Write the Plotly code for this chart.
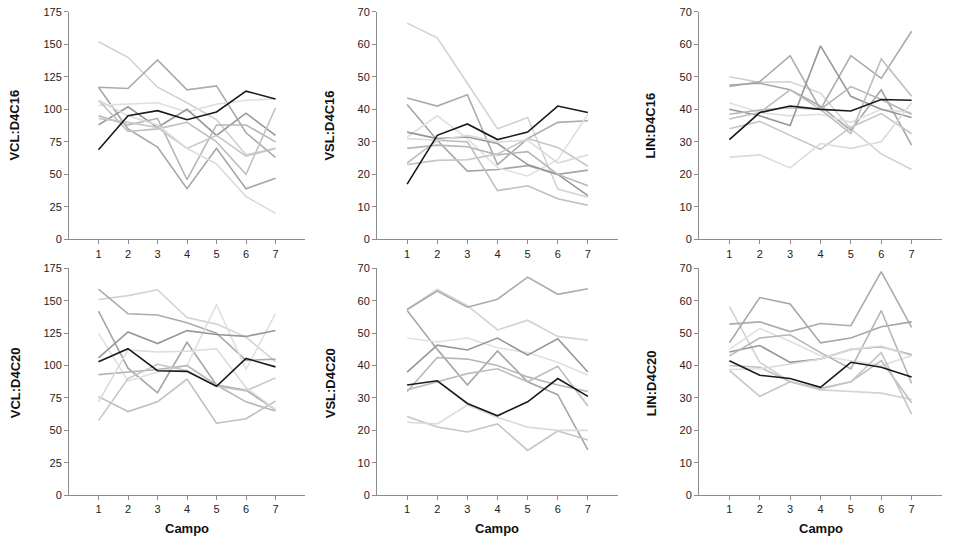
import plotly.graph_objects as go

campo = [1, 2, 3, 4, 5, 6, 7]

# ---- VCL:D4C16 ----
vcl16_black = [69, 95, 99, 92, 98, 114, 108]
vcl16_g1 = [152, 140, 117, 105, 92, 65, 70]
vcl16_g2 = [117, 116, 138, 115, 118, 82, 63]
vcl16_g3 = [117, 85, 71, 39, 70, 39, 47]
vcl16_g4 = [103, 104, 105, 98, 104, 107, 108]
vcl16_g5 = [88, 102, 86, 100, 80, 97, 80]
vcl16_g6 = [95, 88, 93, 46, 88, 88, 75]
vcl16_g7 = [107, 83, 85, 90, 75, 50, 101]
vcl16_g8 = [93, 90, 86, 70, 80, 64, 70]
vcl16_g9 = [107, 95, 88, 70, 58, 33, 20]

# ---- VSL:D4C16 ----
vsl16_black = [17, 32, 35.5, 30.7, 33, 41, 39]
vsl16_g1 = [66.5, 62, 48, 34, 37.5, 15.5, 13]
vsl16_g2 = [43.5, 41, 44.5, 23, 31, 36, 36.5]
vsl16_g3 = [41.5, 30.5, 21, 21.5, 22.7, 20, 21.3]
vsl16_g4 = [31.5, 38, 31, 22, 19.5, 24.5, 38.5]
vsl16_g5 = [33, 31, 31.5, 29.5, 23, 20, 13.5]
vsl16_g6 = [28, 29, 28.5, 26, 27, 20, 16.5]
vsl16_g7 = [23.5, 30.5, 30, 15, 16.5, 12.5, 10.5]
vsl16_g8 = [23, 24.3, 24.5, 26.3, 31, 28.3, 22.5]
vsl16_g9 = [31, 30.5, 32, 30, 30.5, 23.5, 26]

# ---- LIN:D4C16 ----
lin16_black = [30.7, 39, 41, 40, 39.5, 43, 42.8]
lin16_g1 = [50, 48.3, 48.5, 45, 34, 26.3, 21.5]
lin16_g2 = [47, 48.5, 56.5, 40, 56.5, 49.5, 64]
lin16_g3 = [47.5, 48, 46, 41, 33.5, 46, 29]
lin16_g4 = [42, 39, 38, 38.5, 36, 40, 39]
lin16_g5 = [40, 38, 35, 59.5, 44, 40, 37.5]
lin16_g6 = [38.5, 39.8, 40.5, 40, 47, 43, 38.5]
lin16_g7 = [37, 39, 46, 40, 32.5, 55.5, 44]
lin16_g8 = [34, 36.3, 32, 27.7, 34.5, 38.7, 32.5]
lin16_g9 = [25.3, 26, 22, 29.5, 28, 30, 42]

# ---- VCL:D4C20 ----
vcl20_black = [103, 113, 96, 95.5, 84, 105.5, 99]
vcl20_g1 = [151, 154, 158.5, 137, 132, 122, 103]
vcl20_g2 = [159, 140, 139, 133, 125, 104, 105]
vcl20_g3 = [142, 98, 79, 118, 85, 81, 66]
vcl20_g4 = [125, 88, 95, 100, 147, 97, 140]
vcl20_g5 = [106, 126, 117, 127, 124, 122.5, 127]
vcl20_g6 = [93, 95, 97, 100, 85, 72, 65]
vcl20_g7 = [76, 64.5, 72, 89.5, 55.5, 59, 72.5]
vcl20_g8 = [57.5, 90, 101, 96, 84, 80.5, 90.5]
vcl20_g9 = [72, 112, 110.5, 111, 113, 83, 66]

# ---- VSL:D4C20 ----
vsl20_black = [34, 35.3, 28.3, 24.5, 28.8, 36, 30.5]
vsl20_g1 = [57.3, 63.5, 58.5, 51, 54, 49, 47.8]
vsl20_g2 = [57.3, 63, 58, 60.5, 67.3, 62, 63.7]
vsl20_g3 = [57, 45, 34, 44.5, 35, 31, 14]
vsl20_g4 = [48.5, 47.3, 48.5, 45.5, 44, 41, 37]
vsl20_g5 = [38, 46.3, 44.8, 48.5, 43.2, 48.3, 38]
vsl20_g6 = [32, 42.5, 42, 40, 36.5, 34, 32]
vsl20_g7 = [32.5, 35, 37.5, 39, 35, 39.8, 27.5]
vsl20_g8 = [24.3, 21, 19.5, 22, 13.8, 19.8, 17]
vsl20_g9 = [22.5, 22, 27.8, 24, 21, 20, 20]

# ---- LIN:D4C20 ----
lin20_black = [41.5, 37, 36, 33.3, 41, 39.5, 36.5]
lin20_g1 = [58.3, 41, 35, 32.5, 32, 31.5, 29.5]
lin20_g2 = [52.8, 53.5, 50.5, 53, 52.3, 69, 51.8]
lin20_g3 = [47, 61, 59, 47, 48.5, 52, 53.5]
lin20_g4 = [45, 51.5, 47.5, 43, 41.5, 40, 43]
lin20_g5 = [44.2, 46.2, 41, 42, 45, 45.8, 43.3]
lin20_g6 = [43, 48.5, 49.5, 44, 39, 57, 34.5]
lin20_g7 = [40, 39.5, 35, 33, 35, 41.5, 28.5]
lin20_g8 = [38.5, 30.5, 35, 32.7, 35, 44, 25]
lin20_g9 = [38.8, 39, 40.5, 42, 45, 46, 43]

panel_titles = ["VCL:D4C16", "VSL:D4C16", "LIN:D4C16",
                "VCL:D4C20", "VSL:D4C20", "LIN:D4C20"]
panel_ymax = [175, 70, 70, 175, 70, 70]
panel_ydtick = [25, 10, 10, 25, 10, 10]
x_title = "Campo"

panels = [
    (vcl16_black, [vcl16_g1, vcl16_g2, vcl16_g3, vcl16_g4, vcl16_g5, vcl16_g6, vcl16_g7, vcl16_g8, vcl16_g9]),
    (vsl16_black, [vsl16_g1, vsl16_g2, vsl16_g3, vsl16_g4, vsl16_g5, vsl16_g6, vsl16_g7, vsl16_g8, vsl16_g9]),
    (lin16_black, [lin16_g1, lin16_g2, lin16_g3, lin16_g4, lin16_g5, lin16_g6, lin16_g7, lin16_g8, lin16_g9]),
    (vcl20_black, [vcl20_g1, vcl20_g2, vcl20_g3, vcl20_g4, vcl20_g5, vcl20_g6, vcl20_g7, vcl20_g8, vcl20_g9]),
    (vsl20_black, [vsl20_g1, vsl20_g2, vsl20_g3, vsl20_g4, vsl20_g5, vsl20_g6, vsl20_g7, vsl20_g8, vsl20_g9]),
    (lin20_black, [lin20_g1, lin20_g2, lin20_g3, lin20_g4, lin20_g5, lin20_g6, lin20_g7, lin20_g8, lin20_g9]),
]

grays = ["#d2d2d2", "#ababab", "#a6a6a6", "#e0e0e0", "#979797",
         "#b6b6b6", "#bfbfbf", "#c6c6c6", "#dbdbdb"]

W, H = 960, 546
x_px = [(69, 305), (377, 618), (699, 942)]
y_px = [(11, 239), (268, 495)]
title_x_px = [15, 330, 651]
title_y_px = [125, 383]
campo_y_px = 528


def py(p):
    # pixel row (from top) -> paper fraction, calibrated to the rendered page
    return 1 - (p - 5.25) / 534.7


fig = go.Figure()
layout = dict(width=W, height=H, margin=dict(l=0, r=0, t=0, b=0),
              paper_bgcolor="white", plot_bgcolor="white", showlegend=False,
              font=dict(family="Liberation Sans, Arial, sans-serif", color="#222"))
annotations = []

for i, (black, glines) in enumerate(panels):
    row, col = divmod(i, 3)
    n = i + 1
    xa = "x" if n == 1 else f"x{n}"
    ya = "y" if n == 1 else f"y{n}"
    for g, c in zip(glines, grays):
        fig.add_trace(go.Scatter(x=campo, y=g, mode="lines", xaxis=xa, yaxis=ya,
                                 line=dict(color=c, width=1.6), hoverinfo="skip"))
    fig.add_trace(go.Scatter(x=campo, y=black, mode="lines", xaxis=xa, yaxis=ya,
                             line=dict(color="#1a1a1a", width=1.6), hoverinfo="skip"))
    x0, x1 = x_px[col]
    y0, y1 = y_px[row]
    axis_common = dict(showgrid=False, zeroline=False, showline=True,
                       linecolor="#8c8c8c", linewidth=1, ticks="outside",
                       ticklen=4, tickcolor="#8c8c8c",
                       tickfont=dict(size=11, color="#222"))
    layout["xaxis" if n == 1 else f"xaxis{n}"] = dict(
        domain=[x0 / W, x1 / W], range=[0, 8], tickvals=campo,
        anchor=ya, fixedrange=True, **axis_common)
    layout["yaxis" if n == 1 else f"yaxis{n}"] = dict(
        domain=[py(y1), py(y0)], range=[0, panel_ymax[i]],
        dtick=panel_ydtick[i], tick0=0, anchor=xa, fixedrange=True, **axis_common)
    annotations.append(dict(text=f"<b>{panel_titles[i]}</b>", textangle=-90,
                            x=title_x_px[col] / W, y=py(title_y_px[row]),
                            xref="paper", yref="paper", showarrow=False,
                            font=dict(size=13, color="#111"),
                            xanchor="center", yanchor="middle"))
    if row == 1:
        annotations.append(dict(text=f"<b>{x_title}</b>",
                                x=(x0 + x1) / 2 / W, y=py(campo_y_px),
                                xref="paper", yref="paper", showarrow=False,
                                font=dict(size=13, color="#111"),
                                xanchor="center", yanchor="middle"))

layout["annotations"] = annotations
fig.update_layout(**layout)
fig.write_html("out.html", config={"displayModeBar": False},
               post_script="document.body.style.margin='0';document.body.style.overflow='hidden';")
